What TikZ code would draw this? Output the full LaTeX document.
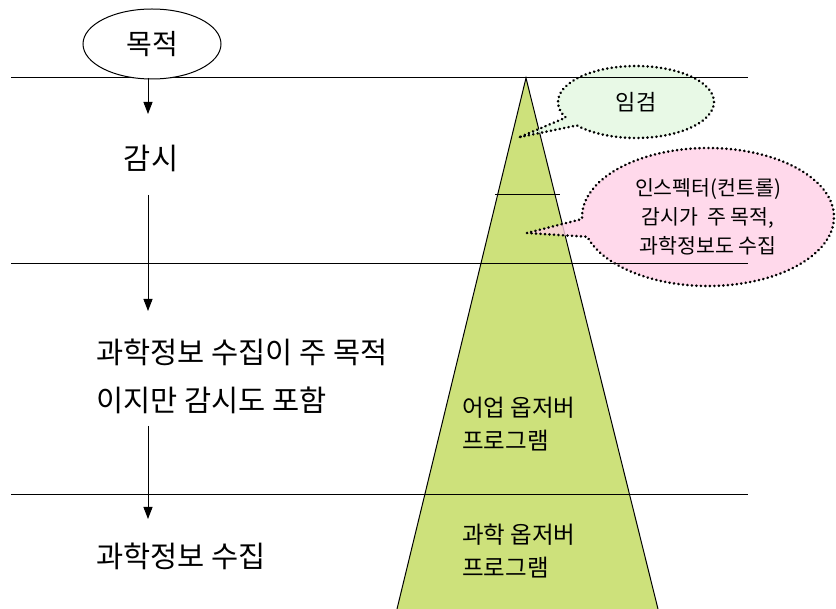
\documentclass[tikz,border=0pt]{standalone}
\usepackage{fontspec}
\setmainfont{Noto Sans CJK KR}
\usetikzlibrary{arrows.meta,shapes.geometric,shapes.callouts}
\definecolor{trigreen}{RGB}{205,225,123}
\definecolor{calgreen}{RGB}{226,248,224}
\definecolor{calpink}{RGB}{255,208,230}
\tikzset{
  rule/.style={line width=1pt, black},
  flow/.style={line width=0.9pt, -{Triangle[length=12pt,width=9pt]}},
  bigtext/.style={font=\fontsize{29.5}{48}\selectfont, inner sep=0pt},
  tritext/.style={font=\fontsize{23.5}{33}\selectfont, align=left, anchor=west, inner sep=0pt},
  cloud/.style={ellipse callout, draw=black, line width=2.8pt, dash pattern=on 0.1pt off 4.4pt, line cap=round,
    fill opacity=0.8, text opacity=1, inner sep=0pt, align=center}
}
\begin{document}
\begin{tikzpicture}[x=1pt,y=-1pt]
\useasboundingbox (0,0) rectangle (836,609);
% pyramid
\fill[trigreen] (526,78) -- (397,609) -- (658,609) -- cycle;
\draw[line width=1pt] (397,609) -- (526,78) -- (658,609);
% callouts
\node[cloud, fill=calgreen, minimum width=156pt, minimum height=72pt,
  callout absolute pointer={(520,137)}, font=\fontsize{22}{24}\selectfont] (c1) at (636,102) {임검};
\node[cloud, fill=calpink, minimum width=252pt, minimum height=138pt,
  callout absolute pointer={(527,233)}, font=\fontsize{20.5}{29}\selectfont] (c2) at (708,217) {인스펙터(컨트롤)\\감시가\ \ 주 목적,\\과학정보도 수집};
% horizontal rules
\coordinate (l1a) at (11,78);  \coordinate (l1b) at (748,78);
\coordinate (l2a) at (11,264); \coordinate (l2b) at (748,264);
\coordinate (l3a) at (11,495); \coordinate (l3b) at (748,495);
\coordinate (l4a) at (495,195); \coordinate (l4b) at (560,195);
\draw[rule] (l1a) -- (l1b);
\draw[rule] (l2a) -- (l2b);
\draw[rule] (l3a) -- (l3b);
\draw[rule] (l4a) -- (l4b);
% left column
\node[ellipse, draw, line width=1pt, fill=white, minimum width=138pt, minimum height=70pt, inner sep=0pt,
  font=\fontsize{28}{30}\selectfont] (goal) at (152,44) {목적};
\node[bigtext] (watch) at (151,158) {감시};
\node[bigtext, align=left, anchor=west] (mix) at (96,376) {과학정보 수집이 주 목적\\이지만 감시도 포함};
\node[bigtext, anchor=west] (sci) at (96,556) {과학정보 수집};
\coordinate (a1s) at (148,78);  \coordinate (a1e) at (148,114);
\coordinate (a2s) at (148,195); \coordinate (a2e) at (148,311);
\coordinate (a3s) at (148,426); \coordinate (a3e) at (148,519);
\draw[flow] (a1s) -- (a1e);
\draw[flow] (a2s) -- (a2e);
\draw[flow] (a3s) -- (a3e);
% pyramid texts
\node[tritext] (fish) at (462,424) {어업 옵저버\\프로그램};
\node[tritext] (scio) at (462,551) {과학 옵저버\\프로그램};
\end{tikzpicture}
\end{document}
